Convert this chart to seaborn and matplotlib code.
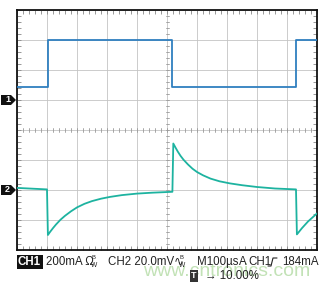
import numpy as np
import pandas as pd
import seaborn as sns
import matplotlib
matplotlib.use("Agg")
import matplotlib.pyplot as plt
from matplotlib.patches import Polygon
from matplotlib.lines import Line2D
from matplotlib.transforms import IdentityTransform

# ---- data (in screen divisions) ----
ch1_t = [0.0, 1.02, 1.02, 5.18, 5.18, 9.31, 9.31, 10.0]
ch1_v = [1.44, 1.44, 3.0, 3.0, 1.44, 1.44, 3.0, 3.0]

ch2_t = [0.0, 1.0, 1.03, 1.10, 1.20, 1.30, 1.45, 1.60, 1.80, 2.00, 2.25, 2.50, 2.80,
         3.10, 3.50, 4.00, 4.50, 5.18,
         5.21, 5.28, 5.36, 5.45, 5.55, 5.70, 5.85, 6.00, 6.20, 6.45, 6.75, 7.10,
         7.50, 8.00, 8.60, 9.30,
         9.33, 9.50, 9.70, 10.0]
ch2_v = [-1.93, -1.98, -3.50, -3.40, -3.27, -3.15, -2.99, -2.86, -2.71, -2.58, -2.46, -2.37, -2.29,
         -2.23, -2.17, -2.12, -2.09, -2.06,
         -0.45, -0.58, -0.72, -0.86, -0.99, -1.15, -1.29, -1.40, -1.51, -1.62, -1.71, -1.78,
         -1.84, -1.90, -1.95, -1.98,
         -3.48, -3.27, -3.05, -2.78]

colors = {"CH1": "#2f7fbf", "CH2": "#1db3a0"}

df = pd.DataFrame({
    "t": ch1_t + ch2_t,
    "v": ch1_v + ch2_v,
    "ch": ["CH1"] * len(ch1_t) + ["CH2"] * len(ch2_t),
})

sns.set_style("white")
plt.rcParams["font.family"] = ["Liberation Sans", "DejaVu Sans"]

W, H = 328, 283
fig = plt.figure(figsize=(W / 100, H / 100), dpi=100)
ax = fig.add_axes([17 / W, 33 / H, 300 / W, 240 / H])

sns.lineplot(data=df, x="t", y="v", hue="ch", palette=colors, sort=False,
             estimator=None, legend=False, linewidth=1.3, ax=ax, zorder=5)

ax.set_xlim(0, 10)
ax.set_ylim(-4, 4)
ax.set_xticks(np.arange(0, 11, 1))
ax.set_yticks(np.arange(-4, 5, 1))
ax.set_xticks(np.arange(0, 10.01, 0.2), minor=True)
ax.set_yticks(np.arange(-4, 4.01, 0.2), minor=True)
ax.tick_params(which="both", direction="in", top=True, right=True, bottom=True, left=True,
               labelbottom=False, labelleft=False, color="#888888", width=0.6, length=3)
ax.grid(True, which="major", color="#c4c4c4", linewidth=0.6)
ax.set_xlabel("")
ax.set_ylabel("")
for s in ax.spines.values():
    s.set_color("#111111")
    s.set_linewidth(1.3)

# centre cross tick marks
for x in np.arange(0, 10.01, 0.2):
    ax.plot([x, x], [-0.06, 0.06], color="#999999", lw=0.6, zorder=2)
for y in np.arange(-4, 4.01, 0.2):
    ax.plot([4.95, 5.05], [y, y], color="#999999", lw=0.6, zorder=2)

# channel markers on the left
idt = IdentityTransform()
for label, ytop in [("1", 100), ("2", 190)]:
    yb = H - ytop
    poly = Polygon([(1, yb - 5), (11, yb - 5), (16, yb), (11, yb + 5), (1, yb + 5)],
                   closed=True, facecolor="#111111", edgecolor="none", transform=idt)
    fig.add_artist(poly)
    fig.text(7.5 / W, yb / H, label, color="white", fontsize=6.5, fontweight="bold",
             ha="center", va="center")

# watermark
fig.text(227 / W, 11 / H, "www.cntronics.com", color="#c2e2b6", fontsize=14,
         ha="center", va="center", zorder=0)

# status line
y1 = (H - 262) / H
fs = 8.3
tc = "#222222"
fig.text(18 / W, y1, "CH1", color="white", fontsize=fs, fontweight="bold", va="center",
         bbox=dict(boxstyle="square,pad=0.12", facecolor="#111111", edgecolor="none"))
fig.text(46 / W, y1, "200mA \u03a9", color=tc, fontsize=fs, va="center")
fig.text(91 / W, y1 + 0.016, "B", color=tc, fontsize=4.2, va="center")
fig.text(91 / W, y1 - 0.013, "W", color=tc, fontsize=4.8, va="center")
fig.text(108 / W, y1, "CH2 20.0mV\u223f", color=tc, fontsize=fs, va="center")
fig.text(179 / W, y1 + 0.016, "B", color=tc, fontsize=4.2, va="center")
fig.text(179 / W, y1 - 0.013, "W", color=tc, fontsize=4.8, va="center")
fig.text(197 / W, y1, "M100\u00b5s", color=tc, fontsize=fs, va="center")
fig.text(239 / W, y1, "A", color=tc, fontsize=fs, va="center")
fig.text(248 / W, y1, "CH1", color=tc, fontsize=fs, va="center")
yb1 = H - 262
fig.add_artist(Line2D([268, 271, 273, 277], [yb1 - 4, yb1 - 4, yb1 + 4, yb1 + 4],
                      color=tc, lw=0.8, transform=idt))
fig.text(282 / W, y1, "184mA", color=tc, fontsize=fs, va="center")

y2 = (H - 276) / H
fig.text(191 / W, y2, "T", color="white", fontsize=6.5, fontweight="bold", va="center",
         bbox=dict(boxstyle="square,pad=0.15", facecolor="#333333", edgecolor="none"))
fig.text(205 / W, y2, "\u2192 10.00%", color=tc, fontsize=fs, va="center")

fig.savefig("out.png", dpi=100)
